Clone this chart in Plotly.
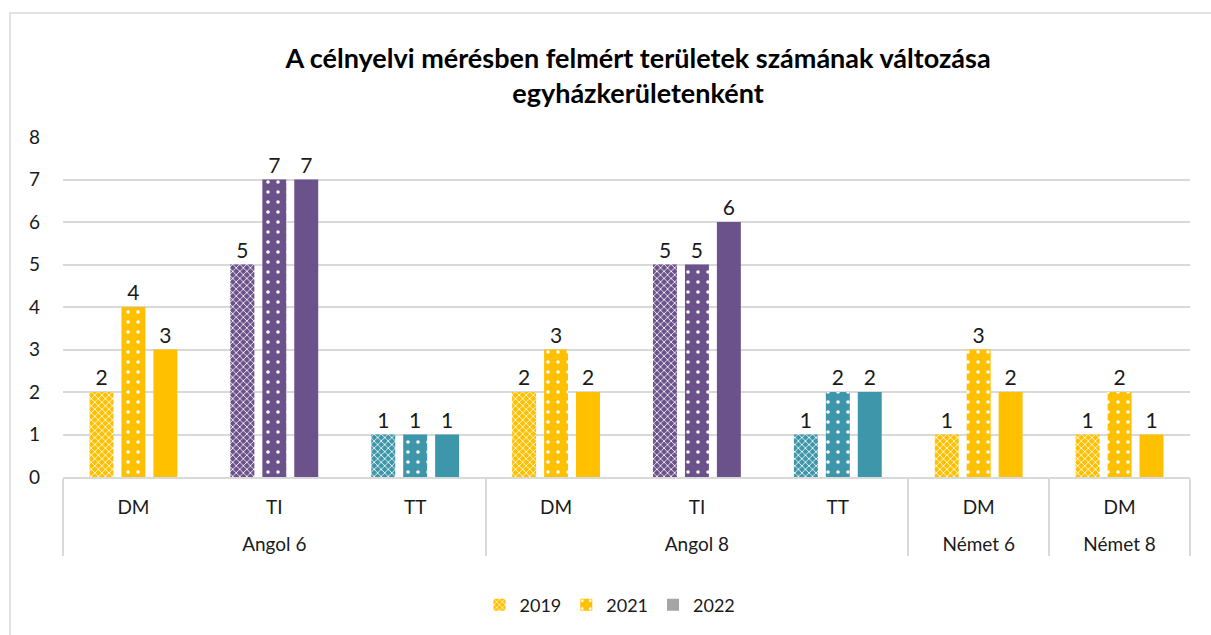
"""Célnyelvi mérés: felmért területek száma egyházkerületenként."""

import plotly.graph_objects as go

# adatok
groups = ["Angol 6", "Angol 6", "Angol 6", "Angol 8", "Angol 8", "Angol 8", "Német 6", "Német 8"]
areas = ["DM", "TI", "TT", "DM", "TI", "TT", "DM", "DM"]
years = ["2019", "2021", "2022"]
v2019 = [2, 5, 1, 2, 5, 1, 1, 1]
v2021 = [4, 7, 1, 3, 5, 2, 3, 2]
v2022 = [3, 7, 1, 2, 6, 2, 2, 1]

AREA_COLORS = {"DM": "#FFC000", "TI": "#6B528B", "TT": "#3E96AB"}
LEGEND_COLORS = ["#FFC000", "#FFC000", "#A5A5A5"]
PATTERNS = {
    "2019": dict(shape="x", size=5, solidity=0.3),
    "2021": dict(shape=".", size=10, solidity=0.1),
    "2022": dict(shape=""),
}
FONT = "Lato, 'Open Sans', sans-serif"
GRID = "#D9D9D9"

L, R, T, B = 63, 1190, 137, 477
W, H = 1211, 635

fig = go.Figure()
# a főcsoport felirata egy sorral lejjebb kerüljön
group_labels = ["<br>" + g for g in groups]


def pattern_for(year):
    pat = dict(PATTERNS[year])
    if pat["shape"]:
        pat.update(fgcolor="#FFFFFF", fgopacity=1, fillmode="overlay")
    return pat


# egy nyomvonal évenként és területenként, hogy a minta fehér lehessen
for year, values in zip(years, [v2019, v2021, v2022]):
    for area, color in AREA_COLORS.items():
        idx = [i for i, a in enumerate(areas) if a == area]
        fig.add_trace(
            go.Bar(
                x=[[group_labels[i] for i in idx], [areas[i] for i in idx]],
                y=[values[i] for i in idx],
                name=year,
                offsetgroup=year,
                marker=dict(color=color, line=dict(width=0), pattern=pattern_for(year)),
                text=[values[i] for i in idx],
                textposition="outside",
                textfont=dict(size=21, color="#1a1a1a", family=FONT),
                cliponaxis=False,
                showlegend=False,
            )
        )

# jelmagyarázat külön, mert a pontok színe kategóriánként változik
for year, col in zip(years, LEGEND_COLORS):
    fig.add_trace(
        go.Bar(
            x=[[group_labels[0]], [areas[0]]],
            y=[None],
            name=year,
            offsetgroup=year,
            marker=dict(color=col, line=dict(width=0), pattern=pattern_for(year)),
            showlegend=True,
        )
    )


def px_x(p):
    return (p - L) / (R - L)


def px_y(p):
    return (B - p) / (B - T)


fig.add_shape(
    type="rect",
    xref="paper", yref="paper",
    x0=px_x(10), x1=px_x(1230), y0=px_y(660), y1=px_y(13),
    line=dict(color=GRID, width=1.5),
    layer="below",
)

fig.update_layout(
    width=W,
    height=H,
    paper_bgcolor="white",
    plot_bgcolor="white",
    font=dict(family=FONT, size=19, color="#1a1a1a"),
    title=dict(
        text="A célnyelvi mérésben felmért területek számának változása<br>egyházkerületenként",
        x=638 / W,
        xanchor="center",
        y=1 - 68 / H,
        yanchor="middle",
        font=dict(size=27, family=FONT, color="#000000", weight="bold"),
    ),
    margin=dict(l=L, r=W - R, t=T, b=H - B),
    barmode="group",
    bargap=0.32,
    bargroupgap=0.25,
    legend=dict(
        orientation="h",
        x=px_x(610),
        xanchor="center",
        y=px_y(605),
        yanchor="middle",
        font=dict(size=18),
    ),
    xaxis=dict(
        type="multicategory",
        showline=True,
        linecolor=GRID,
        linewidth=1.5,
        showdividers=True,
        dividercolor=GRID,
        dividerwidth=1.5,
        tickfont=dict(size=19),
        ticklabelstandoff=12,
        showgrid=False,
    ),
    yaxis=dict(
        range=[0, 8],
        dtick=1,
        showgrid=True,
        gridcolor=GRID,
        gridwidth=1.5,
        zeroline=False,
        tickfont=dict(size=19),
        ticklabelstandoff=22,
    ),
)

fig.write_html(
    "out.html",
    config={"displayModeBar": False},
    post_script="document.body.style.margin='0';",
)
